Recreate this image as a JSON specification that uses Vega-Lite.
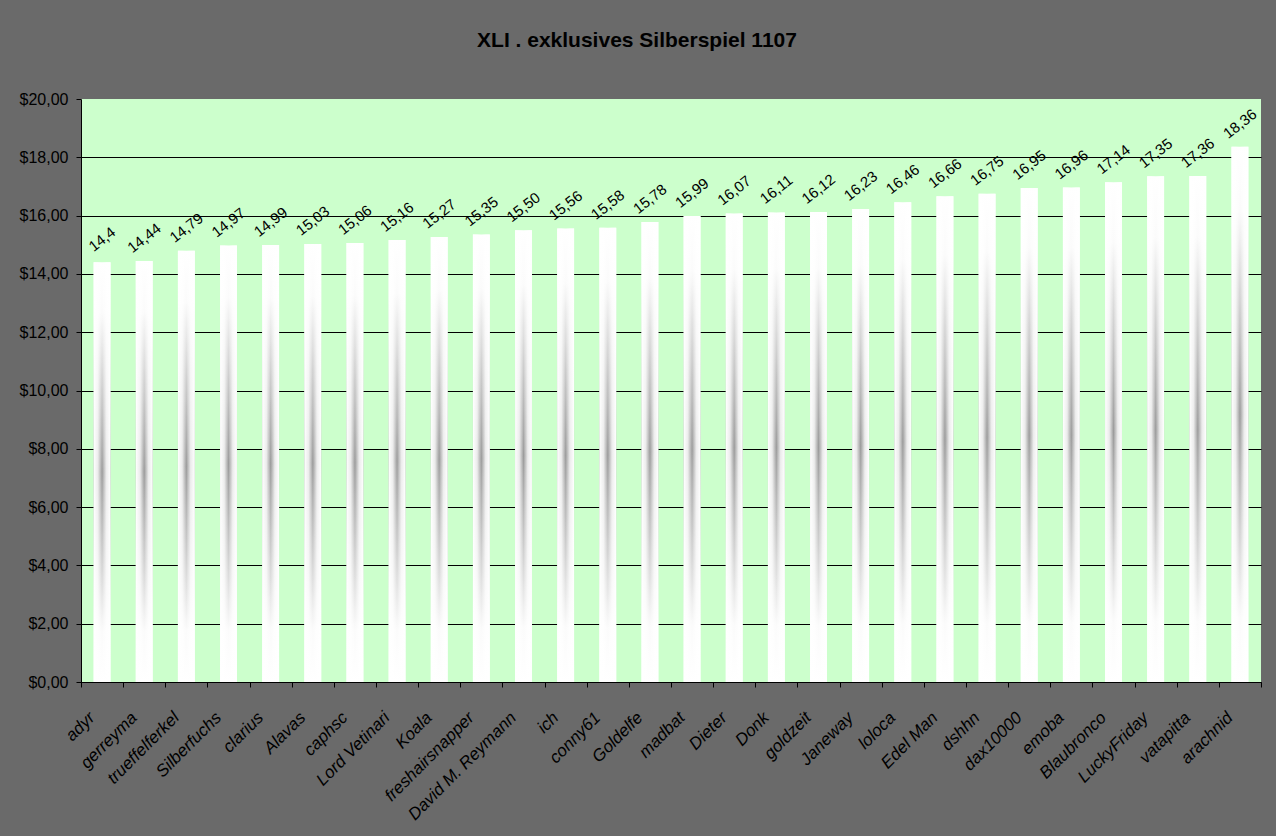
{
  "$schema": "https://vega.github.io/schema/vega-lite/v6.json",
  "width": 1180,
  "height": 583,
  "autosize": {"type": "none"},
  "padding": {"left": 81, "top": 99, "right": 15, "bottom": 154},
  "background": "#6a6a6a",
  "title": {
    "text": "XLI . exklusives Silberspiel 1107",
    "font": "Liberation Sans",
    "fontSize": 21,
    "fontWeight": "bold",
    "color": "#000000",
    "anchor": "middle",
    "dx": -34,
    "offset": 40
  },
  "config": {
    "font": "Liberation Sans",
    "view": {"fill": "#CCFFCC", "stroke": null}
  },
  "data": {
    "values": [
      {"name": "adyr", "value": 14.4, "label": "14,4"},
      {"name": "gerreyma", "value": 14.44, "label": "14,44"},
      {"name": "trueffelferkel", "value": 14.79, "label": "14,79"},
      {"name": "Silberfuchs", "value": 14.97, "label": "14,97"},
      {"name": "clarius", "value": 14.99, "label": "14,99"},
      {"name": "Alavas", "value": 15.03, "label": "15,03"},
      {"name": "caphsc", "value": 15.06, "label": "15,06"},
      {"name": "Lord Vetinari", "value": 15.16, "label": "15,16"},
      {"name": "Koala", "value": 15.27, "label": "15,27"},
      {"name": "freshairsnapper", "value": 15.35, "label": "15,35"},
      {"name": "David M. Reymann", "value": 15.5, "label": "15,50"},
      {"name": "ich", "value": 15.56, "label": "15,56"},
      {"name": "conny61", "value": 15.58, "label": "15,58"},
      {"name": "Goldelfe", "value": 15.78, "label": "15,78"},
      {"name": "madbat", "value": 15.99, "label": "15,99"},
      {"name": "Dieter", "value": 16.07, "label": "16,07"},
      {"name": "Donk", "value": 16.11, "label": "16,11"},
      {"name": "goldzeit", "value": 16.12, "label": "16,12"},
      {"name": "Janeway", "value": 16.23, "label": "16,23"},
      {"name": "loloca", "value": 16.46, "label": "16,46"},
      {"name": "Edel Man", "value": 16.66, "label": "16,66"},
      {"name": "dshhn", "value": 16.75, "label": "16,75"},
      {"name": "dax10000", "value": 16.95, "label": "16,95"},
      {"name": "emoba", "value": 16.96, "label": "16,96"},
      {"name": "Blaubronco", "value": 17.14, "label": "17,14"},
      {"name": "LuckyFriday", "value": 17.35, "label": "17,35"},
      {"name": "vatapitta", "value": 17.36, "label": "17,36"},
      {"name": "arachnid", "value": 18.36, "label": "18,36"}
    ]
  },
  "encoding": {
    "x": {
      "field": "name",
      "type": "nominal",
      "sort": null,
      "scale": {"paddingInner": 0, "paddingOuter": 0},
      "axis": {
        "title": null,
        "labelAngle": -45,
        "labelAlign": "right",
        "labelBaseline": "top",
        "labelFontStyle": "italic",
        "labelFontSize": 17,
        "labelColor": "#000000",
        "labelPadding": 22,
        "labelOffset": -16,
        "tickBand": "extent",
        "tickSize": 5,
        "tickColor": "#000000",
        "domainColor": "#000000",
        "grid": false
      }
    },
    "y": {
      "field": "value",
      "type": "quantitative",
      "scale": {"domain": [0, 20], "nice": false},
      "axis": {
        "title": null,
        "values": [0, 2, 4, 6, 8, 10, 12, 14, 16, 18, 20],
        "labelExpr": "'$' + replace(format(datum.value, '.2f'), '.', ',')",
        "labelFontSize": 16,
        "labelColor": "#000000",
        "labelPadding": 8,
        "tickSize": 5,
        "tickColor": "#000000",
        "domainColor": "#000000",
        "grid": true,
        "gridColor": {"condition": {"test": "datum.value == 20", "value": "transparent"}, "value": "#000000"},
        "gridOpacity": 1,
        "gridWidth": 1
      }
    }
  },
  "layer": [
    {
      "mark": {
        "type": "bar",
        "width": {"band": 0.4},
        "fill": {
          "gradient": "linear",
          "x1": 0, "y1": 0, "x2": 0, "y2": 1,
          "stops": [
            {"offset": 0, "color": "#ffffff"},
            {"offset": 0.12, "color": "#fbfbfb"},
            {"offset": 0.5, "color": "#9c9c9c"},
            {"offset": 0.88, "color": "#fbfbfb"},
            {"offset": 1, "color": "#ffffff"}
          ]
        }
      }
    },
    {
      "mark": {
        "type": "bar",
        "width": {"band": 0.4},
        "fill": {
          "gradient": "linear",
          "x1": 0, "y1": 0, "x2": 1, "y2": 0,
          "stops": [
            {"offset": 0, "color": "rgba(255,255,255,1)"},
            {"offset": 0.25, "color": "rgba(255,255,255,0.8)"},
            {"offset": 0.5, "color": "rgba(255,255,255,0)"},
            {"offset": 0.75, "color": "rgba(255,255,255,0.8)"},
            {"offset": 1, "color": "rgba(255,255,255,1)"}
          ]
        }
      }
    },
    {
      "mark": {
        "type": "text",
        "angle": -38,
        "align": "center",
        "baseline": "middle",
        "yOffset": -23,
        "fontSize": 15,
        "color": "#000000"
      },
      "encoding": {
        "text": {"field": "label", "type": "nominal"}
      }
    }
  ]
}
